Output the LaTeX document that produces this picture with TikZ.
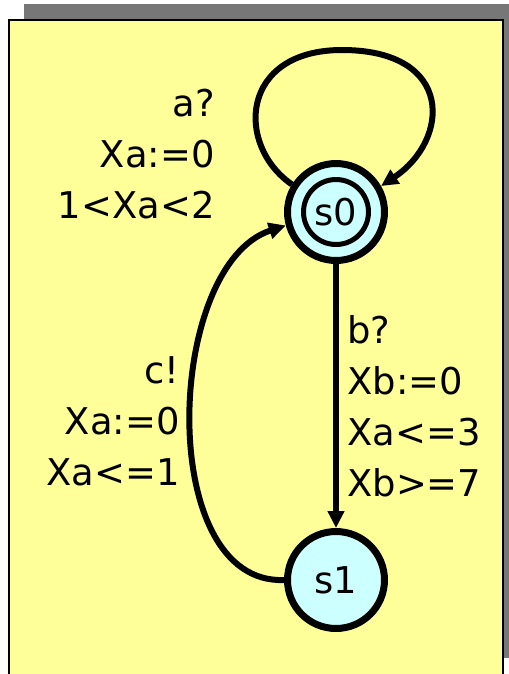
\documentclass[tikz,border=0pt]{standalone}
\usepackage{fontspec}
\setmainfont{DejaVu Sans}
\usetikzlibrary{arrows.meta}
\definecolor{boxyellow}{HTML}{FFFF99}
\definecolor{stateblue}{HTML}{CCFFFF}
\definecolor{shadowgrey}{HTML}{777777}

\begin{document}
\begin{tikzpicture}[x=0.02cm, y=-0.02cm,
    every node/.style={font=\fontsize{21}{29}\selectfont},
    state/.style={circle, draw, fill=stateblue, line width=0.14cm, minimum size=1.94cm, inner sep=0pt},
    ring/.style={circle, draw, line width=0.1cm, minimum size=1.3cm, inner sep=0pt},
    edge/.style={line width=0.12cm, -{Triangle[length=0.34cm, width=0.32cm]}},
    guard/.style={align=right, anchor=base east, inner sep=0pt},
    update/.style={align=left, anchor=base west, inner sep=0pt}]
    \useasboundingbox (0,0) rectangle (509,674);
    \clip (0,0) rectangle (509,674);

    % frame with shadow
    \fill[shadowgrey] (24,4) rectangle (509,658);
    \draw[fill=boxyellow, line width=0.04cm] (9,20) rectangle (503,700);

    % locations
    \node[state] (s0) at (336,212) {};
    \node[ring] (s0in) at (s0) {s0};
    \node[state] (s1) at (336,580) {s1};

    % transitions
    \draw[edge] (s0.148) .. controls (235,145) and (240,50) .. (342,50)
        .. controls (455,50) and (450,140) .. (s0.30);
    \draw[edge] (s0) -- (s1);
    \draw[edge] (s1.west) .. controls (155,585) and (165,265) .. (s0.195);

    % labels (base = last line)
    \node[guard] (loopa) at (215,218) {a?\\Xa:=0\\1<Xa<2};
    \node[update] (downb) at (347,496) {b?\\Xb:=0\\Xa<=3\\Xb>=7};
    \node[guard] (upc) at (180,485) {c!\\Xa:=0\\Xa<=1};
\end{tikzpicture}
\end{document}
